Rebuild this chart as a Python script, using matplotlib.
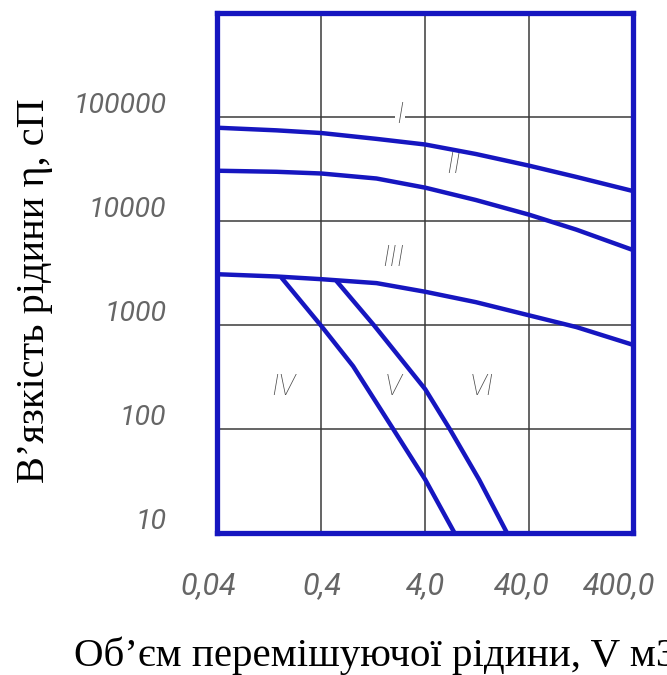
import matplotlib
matplotlib.use("Agg")
import matplotlib.pyplot as plt
from matplotlib.transforms import ScaledTranslation

# ---- data (log-log chart) ----
x_ticks = [0.04, 0.4, 4.0, 40.0, 400.0]
x_tick_labels = ["0,04", "0,4", "4,0", "40,0", "400,0"]
y_ticks = [10, 100, 1000, 10000, 100000]
y_tick_labels = ["10", "100", "1000", "10000", "100000"]

curve1_x = [0.04, 0.148, 0.4, 1.36, 4.0, 12.3, 40.0, 114.0, 400.0]
curve1_y = [78700, 74300, 70000, 61500, 54300, 44000, 34000, 26500, 19400]

curve2_x = [0.04, 0.148, 0.4, 1.36, 4.0, 12.3, 40.0, 114.0, 400.0]
curve2_y = [30400, 29700, 28600, 25600, 20900, 15900, 11500, 8260, 5260]

curve3_x = [0.04, 0.148, 0.4, 1.36, 4.0, 12.3, 40.0, 114.0, 400.0]
curve3_y = [3080, 2930, 2760, 2530, 2090, 1660, 1240, 957, 646]

curve4_x = [0.165, 0.4, 0.809, 1.97, 4.0, 7.69]
curve4_y = [2860, 980, 403, 100, 32.8, 10]

curve5_x = [0.558, 1.28, 4.0, 6.90, 13.2, 24.6]
curve5_y = [2660, 1000, 242, 100, 32.8, 10]

region_labels = ["I", "II", "III", "IV", "V", "VI"]
region_x = [2.29, 7.43, 1.96, 0.171, 1.96, 14.1]
region_y = [105000, 34600, 4400, 253, 253, 253]

x_label = "Об’єм перемішуючої рідини, V м3"
y_label = "В’язкість рідини η, сП"

# ---- styling ----
BLUE = "#1616c0"
GRAY = "#666666"
x_label_shift_px = [-9, 1, 0, -7, -14]

fig = plt.figure(figsize=(6.67, 6.75), dpi=100)
ax = fig.add_axes([0.326, 0.210, 0.623, 0.771])
ax.set_xscale("log")
ax.set_yscale("log")
ax.set_xlim(0.04, 400)
ax.set_ylim(10, 1e6)

for cx, cy in [(curve1_x, curve1_y), (curve2_x, curve2_y), (curve3_x, curve3_y),
               (curve4_x, curve4_y), (curve5_x, curve5_y)]:
    ax.plot(cx, cy, color=BLUE, lw=3.2, solid_joinstyle="round",
            solid_capstyle="butt", zorder=3)

ax.set_xticks(x_ticks)
ax.set_xticklabels(x_tick_labels)
ax.set_yticks(y_ticks)
ax.set_yticklabels(y_tick_labels)
ax.minorticks_off()
ax.grid(True, color="#3a3a3a", lw=1.1, zorder=1)
ax.set_axisbelow(True)

ax.tick_params(axis="both", length=0)
ax.tick_params(axis="x", pad=27, labelsize=22, labelcolor=GRAY)
ax.tick_params(axis="y", pad=37, labelsize=20.5, labelcolor=GRAY)
for lab in ax.get_xticklabels() + ax.get_yticklabels():
    lab.set_fontfamily("Roboto")
    lab.set_fontstyle("italic")
    lab.set_fontweight("normal")
for lab in ax.get_yticklabels():
    lab.set_transform(lab.get_transform() + ScaledTranslation(0, 0.14, fig.dpi_scale_trans))
for lab, dx in zip(ax.get_xticklabels(), x_label_shift_px):
    lab.set_transform(lab.get_transform() + ScaledTranslation(dx / 100, 0, fig.dpi_scale_trans))

for s in ax.spines.values():
    s.set_color(BLUE)
    s.set_linewidth(3.8)
    s.set_zorder(4)

for t, tx, ty in zip(region_labels, region_x, region_y):
    kw = {}
    if t == "I":
        kw["bbox"] = dict(facecolor="white", edgecolor="none", pad=1)
    ax.text(tx, ty, t, ha="center", va="center", fontsize=21, color="#4a4a4a",
            family="Roboto", style="italic", weight="light", zorder=2, **kw)

fig.text(0.052, 0.570, y_label, rotation=90, ha="center", va="center",
         fontsize=29, family="Liberation Serif", color="black")
fig.text(0.111, 0.028, x_label, ha="left", va="center",
         fontsize=29.5, family="Liberation Serif", color="black")

fig.savefig("out.png", dpi=100)
